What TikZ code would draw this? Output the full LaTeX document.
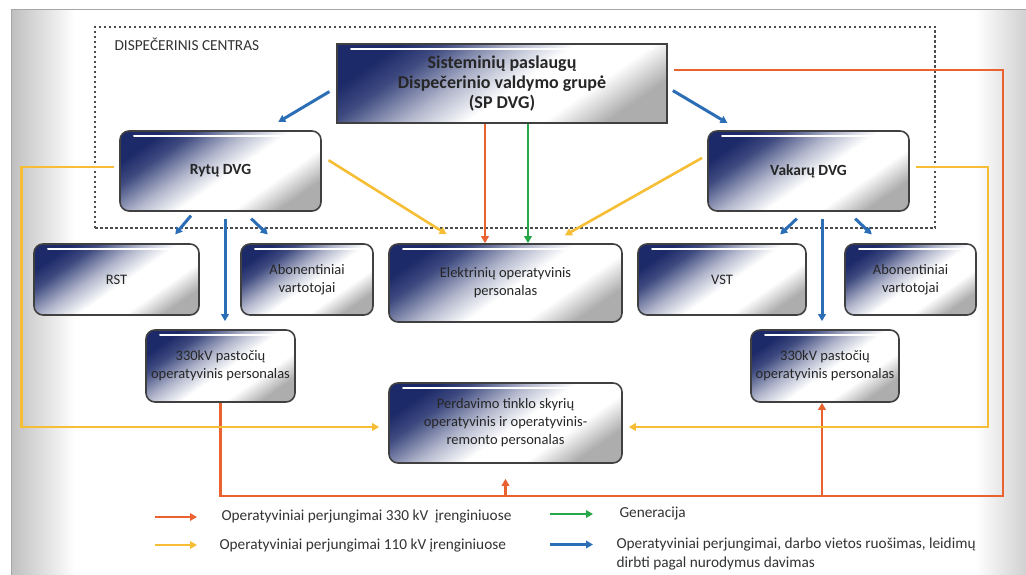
\documentclass[tikz,border=0pt]{standalone}
\usepackage{fontspec}
\setmainfont{Carlito}
\usepackage{tikz}
\usetikzlibrary{arrows.meta,calc}
\definecolor{dvgnavy}{RGB}{28,42,105}
\definecolor{switchorange}{RGB}{234,98,48}
\definecolor{switchyellow}{RGB}{246,190,52}
\definecolor{gengreen}{RGB}{38,168,72}
\definecolor{orderblue}{RGB}{44,110,182}
\pgfdeclarehorizontalshading{dvgshade}{100bp}{color(0bp)=(dvgnavy); color(25bp)=(dvgnavy);
  color(32bp)=(dvgnavy!85!white); color(43bp)=(dvgnavy!35!white); color(53bp)=(white); color(65bp)=(white);
  color(75bp)=(black!32); color(100bp)=(black!32)}

\begin{document}
\begin{tikzpicture}[
    x=1pt, y=-1pt,
    font=\fontsize{14.5}{18}\selectfont,
    dvgbox/.style={draw=black!75, line width=1.6pt, rounded corners=9pt, shade, shading=dvgshade,
      shading angle=-55, align=center, inner sep=2pt, text=black!85,
      path picture={\draw[white, line width=2pt, line cap=round]
        ([xshift=14pt,yshift=-5pt]path picture bounding box.north west) --
        ([xshift=-14pt,yshift=-5pt]path picture bounding box.north east);}},
    groupbox/.style={dvgbox, rounded corners=0pt, line width=1.4pt,
      font=\fontsize{18}{20}\selectfont\bfseries},
    regionbox/.style={dvgbox, font=\fontsize{15.5}{18}\selectfont\bfseries},
    dashedarea/.style={draw=black!70, line width=1.5pt, dash pattern=on 2.5pt off 2.5pt, inner sep=0pt},
    legend/.style={anchor=west, text=black!80, align=left, font=\fontsize{15.3}{19}\selectfont},
    link/.style={line width=2.6pt},
    tip/.style={-{Triangle[length=7pt, width=7.5pt]}},
    hv330/.style={link, tip, switchorange},
    hv110/.style={link, tip, switchyellow},
    genarrow/.style={link, tip, gengreen},
    order/.style={link, tip, orderblue, line width=3pt}
  ]
    % frame
    \useasboundingbox (0,0) rectangle (1026,575);
    \fill[white] (0,0) rectangle (1026,575);
    \shade[left color=black!25, right color=white] (11,10) rectangle (75,575);
    \shade[left color=white, right color=black!18] (975,10) rectangle (1026,575);
    \draw[black!35, line width=1pt] (11,575) -- (11,10) -- (1026,10);

    \node[dashedarea, minimum width=840pt, minimum height=201pt] (centras) at (515,127.5) {};
    \node[anchor=west, text=black!80, font=\fontsize{15.3}{17}\selectfont] (centraslabel) at (111,44) {DISPEČERINIS CENTRAS};

    \node[groupbox, minimum width=330pt, minimum height=79pt] (spdvg) at (502,83.5)
      {Sisteminių paslaugų\\Dispečerinio valdymo grupė\\(SP DVG)};
    \node[regionbox, minimum width=201pt, minimum height=80pt] (rytu) at (220.5,171) {Rytų DVG};
    \node[regionbox, minimum width=201pt, minimum height=80pt] (vakaru) at (808.5,171) {Vakarų DVG};

    \node[dvgbox, minimum width=165pt, minimum height=71pt] (rst) at (116.5,279.5) {RST};
    \node[dvgbox, minimum width=132pt, minimum height=71pt] (abonL) at (307,279.5) {Abonentiniai\\vartotojai};
    \node[dvgbox, minimum width=233pt, minimum height=78pt] (elektr) at (505.5,283) {Elektrinių operatyvinis\\personalas};
    \node[dvgbox, minimum width=168pt, minimum height=71pt] (vst) at (722,279.5) {VST};
    \node[dvgbox, minimum width=131pt, minimum height=71pt] (abonR) at (910.5,279.5) {Abonentiniai\\vartotojai};

    \node[dvgbox, minimum width=149pt, minimum height=72pt] (pastL) at (220.5,366) {330kV pastočių\\operatyvinis personalas};
    \node[dvgbox, minimum width=148pt, minimum height=72pt] (pastR) at (825,366) {330kV pastočių\\operatyvinis personalas};
    \node[dvgbox, minimum width=233pt, minimum height=80pt] (perd) at (505.5,423)
      {Perdavimo tinklo skyrių\\operatyvinis ir operatyvinis-\\remonto personalas};

    % 330 kV
    \coordinate (rail) at (1003,496);
    \draw[link, switchorange, shorten <=6pt] ([yshift=13.5pt]spdvg.east) -| (rail) -| (pastL.south);
    \draw[hv330, shorten >=15pt] (rail -| perd.south) -- (perd.south);
    \draw[hv330] ($(rail -| pastR.south)+(-3,0)$) -- ($(pastR.south)+(-3,0)$);
    \draw[hv330] ($(spdvg.south)+(-17,0)$) -- ($(spdvg.south |- elektr.north)+(-17,0)$);

    % generation
    \draw[genarrow] ($(spdvg.south)+(26,0)$) -- ($(spdvg.south |- elektr.north)+(26,0)$);

    % 110 kV
    \draw[hv110, shorten <=8pt, shorten >=17pt] ([yshift=15pt]rytu.east) -- ([xshift=-44.5pt]elektr.north);
    \draw[hv110, shorten <=6pt, shorten >=16pt] ([yshift=16pt]vakaru.west) -- ([xshift=45.5pt]elektr.north);
    \draw[hv110, shorten <=5pt, shorten >=9pt] ([yshift=4pt]rytu.west) -- ++(-98,0) |- ([yshift=-4pt]perd.west);
    \draw[hv110, shorten <=6pt, shorten >=6pt] ([yshift=4pt]vakaru.east) -- ++(78,0) |- ([yshift=-4pt]perd.east);

    % orders
    \draw[order, shorten <=8pt, shorten >=16pt] ([yshift=-4pt]spdvg.west) -- ([xshift=44pt]rytu.north);
    \draw[order, shorten <=6pt, shorten >=14pt] ([yshift=-4pt]spdvg.east) -- ([xshift=-69pt]vakaru.north);
    \draw[order, shorten <=5pt, shorten >=11.5pt] ([xshift=-26.3pt]rytu.south) -- ([xshift=51.3pt]rst.north);
    \draw[order, shorten <=10pt, shorten >=12.7pt] ([xshift=23.5pt]rytu.south) -- ([xshift=-30pt]abonL.north);
    \draw[order, shorten <=7pt, shorten >=8pt] ([xshift=4.5pt]rytu.south) -- ($(rytu.south |- pastL.north)+(4.5,0)$);
    \draw[order, shorten <=10pt, shorten >=12.7pt] ([xshift=-4.5pt]vakaru.south) -- ([xshift=49pt]vst.north);
    \draw[order, shorten <=10pt, shorten >=12.7pt] ([xshift=39.5pt]vakaru.south) -- ([xshift=-29.5pt]abonR.north);
    \draw[order, shorten <=7pt, shorten >=8pt] ([xshift=13.5pt]vakaru.south) -- ($(vakaru.south |- pastR.north)+(13.5,0)$);

    % legend
    \node[legend] (leg330) at (218,517) {Operatyviniai perjungimai 330 kV~~įrenginiuose};
    \node[legend] (leg110) at (216,545) {Operatyviniai perjungimai 110 kV įrenginiuose};
    \node[legend] (leggen) at (616,514) {Generacija};
    \node[legend] (legorder) at (613,553.5) {Operatyviniai perjungimai, darbo vietos ruošimas, leidimų\\dirbti pagal nurodymus davimas};
    \draw[hv330] ([xshift=-63pt]leg330.west) -- ([xshift=-21pt]leg330.west);
    \draw[hv110] ([xshift=-61pt]leg110.west) -- ([xshift=-19pt]leg110.west);
    \draw[genarrow] ([xshift=-66pt]leggen.west) -- ([xshift=-23pt]leggen.west);
    \draw[order] ([xshift=-63pt,yshift=9pt]legorder.west) -- ([xshift=-20pt,yshift=9pt]legorder.west);
\end{tikzpicture}
\end{document}
